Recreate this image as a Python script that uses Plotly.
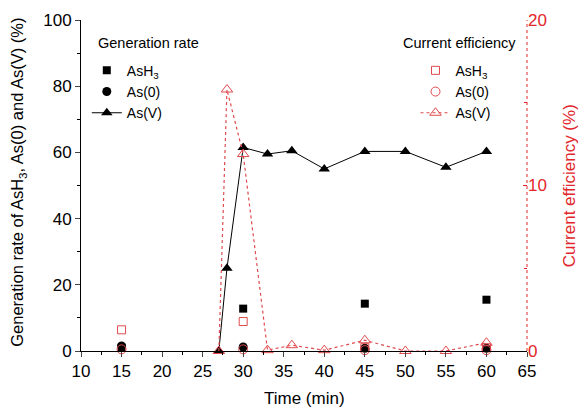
import plotly.graph_objects as go

# Generation rate (%), left axis
t_ash3 = [15, 30, 45, 60]
gen_ash3 = [1.0, 12.8, 14.3, 15.5]
t_as0 = [15, 30, 45, 60]
gen_as0 = [1.5, 1.2, 0.8, 0.8]
t_asv = [27, 28, 30, 33, 36, 40, 45, 50, 55, 60]
gen_asv = [0, 25, 61.5, 59.5, 60.5, 55, 60.3, 60.3, 55.5, 60.3]

# Current efficiency (%), right axis
ce_ash3 = [1.28, 1.78, 0.2, 0.2]
ce_as0 = [0.1, 0.1, 0.05, 0.05]
t_ce_asv = [27, 28, 30, 33, 36, 40, 45, 50, 55, 60]
ce_asv = [0, 15.8, 11.9, 0.05, 0.35, 0.05, 0.65, 0, 0, 0.5]

RED = "#e2262b"
RED_M = "#e04a4e"
FONT = "Liberation Sans, Arial, sans-serif"

fig = go.Figure()
fig.add_trace(go.Scatter(x=t_ash3, y=gen_ash3, mode="markers", name="AsH<sub>3</sub>",
                         marker=dict(symbol="square", size=8, color="black"),
                         legend="legend", cliponaxis=False))
fig.add_trace(go.Scatter(x=t_as0, y=gen_as0, mode="markers", name="As(0)",
                         marker=dict(symbol="circle", size=9, color="black"),
                         legend="legend", cliponaxis=False))
fig.add_trace(go.Scatter(x=t_asv, y=gen_asv, mode="lines+markers", name="As(V)",
                         line=dict(color="black", width=1),
                         marker=dict(symbol="triangle-up", size=10, color="black"),
                         legend="legend", cliponaxis=False))

fig.add_trace(go.Scatter(x=t_ash3, y=ce_ash3, mode="markers", name="AsH<sub>3</sub>",
                         marker=dict(symbol="square-open", size=8, color=RED_M, line=dict(width=1)),
                         yaxis="y2", legend="legend2", cliponaxis=False))
fig.add_trace(go.Scatter(x=t_as0, y=ce_as0, mode="markers", name="As(0)",
                         marker=dict(symbol="circle-open", size=9, color=RED_M, line=dict(width=1)),
                         yaxis="y2", legend="legend2", cliponaxis=False))
fig.add_trace(go.Scatter(x=t_ce_asv, y=ce_asv, mode="lines+markers", name="As(V)",
                         line=dict(color=RED_M, width=1.2, dash="dot"),
                         marker=dict(symbol="triangle-up-open", size=10, color=RED_M, line=dict(width=1)),
                         yaxis="y2", legend="legend2", cliponaxis=False))

fig.update_layout(
    width=579, height=413,
    margin=dict(l=81, r=52, t=20, b=62),
    paper_bgcolor="white", plot_bgcolor="white",
    font=dict(family=FONT, size=17, color="black"),
    xaxis=dict(range=[10, 65], dtick=5, tick0=10, ticks="outside", ticklen=5,
               showline=True, linecolor="black", linewidth=1, showgrid=False, zeroline=False,
               minor=dict(ticks="outside", ticklen=3, dtick=2.5, tick0=10, tickcolor="black"),
               tickfont=dict(size=17), automargin=False),
    xaxis2=dict(range=[10, 65], dtick=5, tick0=10, ticks="inside", ticklen=5, overlaying="x",
                side="top", showticklabels=False, showline=True, linecolor="black", linewidth=1,
                showgrid=False, zeroline=False, automargin=False,
                minor=dict(ticks="inside", ticklen=3, dtick=2.5, tick0=10, tickcolor="black")),
    yaxis=dict(range=[0, 100], dtick=20, ticks="outside", ticklen=5, showline=True,
               linecolor="black", linewidth=1, showgrid=False, zeroline=False, automargin=False,
               minor=dict(ticks="outside", ticklen=3, dtick=10, tickcolor="black"),
               tickfont=dict(size=17)),
    yaxis2=dict(range=[0, 20], dtick=10, overlaying="y", side="right", ticks="inside",
                ticklen=4, tickcolor=RED, showline=False, showgrid=False, zeroline=False,
                automargin=False,
                minor=dict(ticks="inside", ticklen=3, dtick=5, tickcolor=RED),
                tickfont=dict(size=17, color=RED)),
    legend=dict(x=0.013, y=0.895, xanchor="left", yanchor="top", bgcolor="rgba(0,0,0,0)",
                font=dict(size=14), tracegroupgap=0, itemwidth=30),
    legend2=dict(x=0.75, y=0.895, xanchor="left", yanchor="top", bgcolor="rgba(0,0,0,0)",
                 font=dict(size=14), tracegroupgap=0, itemwidth=30),
    showlegend=True,
    shapes=[dict(type="line", xref="paper", yref="paper", x0=1, x1=1, y0=0, y1=1,
                 line=dict(color=RED, width=1, dash="dot"))],
    annotations=[
        dict(text="Time (min)", xref="paper", yref="paper", x=0.5, y=-0.145,
             xanchor="center", yanchor="middle", showarrow=False, font=dict(size=17)),
        dict(text="Generation rate of AsH<sub>3</sub>, As(0) and As(V) (%)", xref="paper",
             yref="paper", x=-0.14, y=0.51, xanchor="center", yanchor="middle",
             showarrow=False, textangle=-90, font=dict(size=16.5)),
        dict(text="Current efficiency (%)", xref="paper", yref="paper", x=1.096, y=0.5,
             xanchor="center", yanchor="middle", showarrow=False, textangle=-90,
             font=dict(size=17, color=RED)),
        dict(text="Generation rate", xref="paper", yref="paper", x=0.034, y=0.93,
             xanchor="left", yanchor="middle", showarrow=False, font=dict(size=14.5)),
        dict(text="Current efficiency", xref="paper", yref="paper", x=0.98, y=0.93,
             xanchor="right", yanchor="middle", showarrow=False, font=dict(size=14.5)),
    ],
)

fig.write_html("out.html", config={"displayModeBar": False},
               post_script="document.body.style.margin='0';")
